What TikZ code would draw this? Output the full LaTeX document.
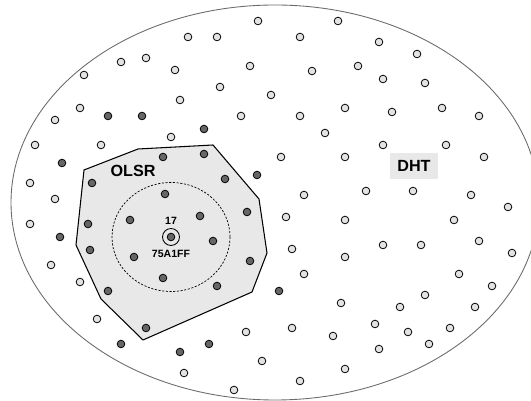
\documentclass[tikz,border=0pt]{standalone}
\usepackage{fontspec}
\setmainfont{Liberation Sans}
\usepackage{xcolor}
\usetikzlibrary{positioning}
\definecolor{peerfill}{gray}{0.89}
\definecolor{olsrfill}{gray}{0.4}
\definecolor{zonefill}{gray}{0.91}
\definecolor{rimgray}{gray}{0.42}

\begin{document}
\begin{tikzpicture}[x=0.02cm, y=-0.02cm,
    peer/.style={circle, draw, line width=0.45pt, fill=peerfill, inner sep=0pt, minimum size=0.153cm},
    olsrpeer/.style={peer, fill=olsrfill},
    zonetext/.style={font=\fontsize{9.2}{10}\selectfont\bfseries, inner sep=0pt},
    tag/.style={font=\fontsize{6}{6}\selectfont\bfseries, inner sep=0pt}]
  \useasboundingbox (0,0) rectangle (531,401);
  \clip (0,0) rectangle (531,401);

  \draw[rimgray, line width=0.5pt] (275,202.5) ellipse [x radius=264, y radius=197.5];
  \draw[fill=zonefill, line width=0.6pt]
    (84,170) -- (138,149) -- (213,145) -- (259,199) -- (267,253)
    -- (252,292) -- (143,340) -- (101,299) -- (76,245) -- cycle;
  \draw[line width=0.4pt, dash pattern=on 1.2pt off 0.9pt] (171,237) ellipse [x radius=59, y radius=54.5];

  \foreach \x/\y [count=\i] in {258/21, 338/21, 188/37, 217/37, 300/37, 379/42, 417/54,
      121/62, 146/58, 84/75, 175/70, 250/66, 312/71, 358/66, 383/79, 425/83, 220/87,
      271/95, 180/100, 80/108, 55/120, 241/116, 300/116, 345/108, 392/112, 442/108,
      479/116, 325/133, 171/137, 35/145, 101/145, 383/145, 446/145, 281/157, 345/157,
      484/157, 30/183, 55/199, 304/195, 366/191, 413/191, 471/195, 508/207, 286/217,
      345/220, 454/220, 30/224, 292/249, 345/257, 383/245, 421/245, 479/241, 512/253,
      51/265, 304/274, 459/274, 80/282, 425/295, 492/286, 341/303, 400/307, 475/307,
      97/319, 375/324, 292/328, 408/332, 450/328, 246/332, 333/336, 379/349, 429/344,
      262/361, 345/369, 184/373, 300/381, 234/390}
    \node[peer] (p\i) at (\x,\y) {};

  \foreach \x/\y [count=\i] in {108/116, 142/116, 204/129, 62/163, 163/157, 204/154,
      225/179, 257/175, 92/183, 165/194, 130/220, 200/216, 247/212, 88/224, 60/237,
      213/241, 90/250, 134/257, 250/261, 163/278, 108/291, 217/286, 279/291, 146/328,
      121/344, 180/352, 209/344}
    \node[olsrpeer] (o\i) at (\x,\y) {};

  \node[olsrpeer] (self) at (171,237) {};
  \node[circle, draw, line width=0.5pt, minimum size=0.34cm] (ring) at (self) {};
  \node[tag] (id)   [above=0.06cm of ring] {17};
  \node[tag] (hash) [below=0.08cm of ring] {75A1FF};

  \node[zonetext] (olsr) at (133,171) {OLSR};
  \node[zonetext, fill=zonefill, minimum width=0.954cm, minimum height=0.534cm] (dht) at (414,166) {DHT};
\end{tikzpicture}
\end{document}
